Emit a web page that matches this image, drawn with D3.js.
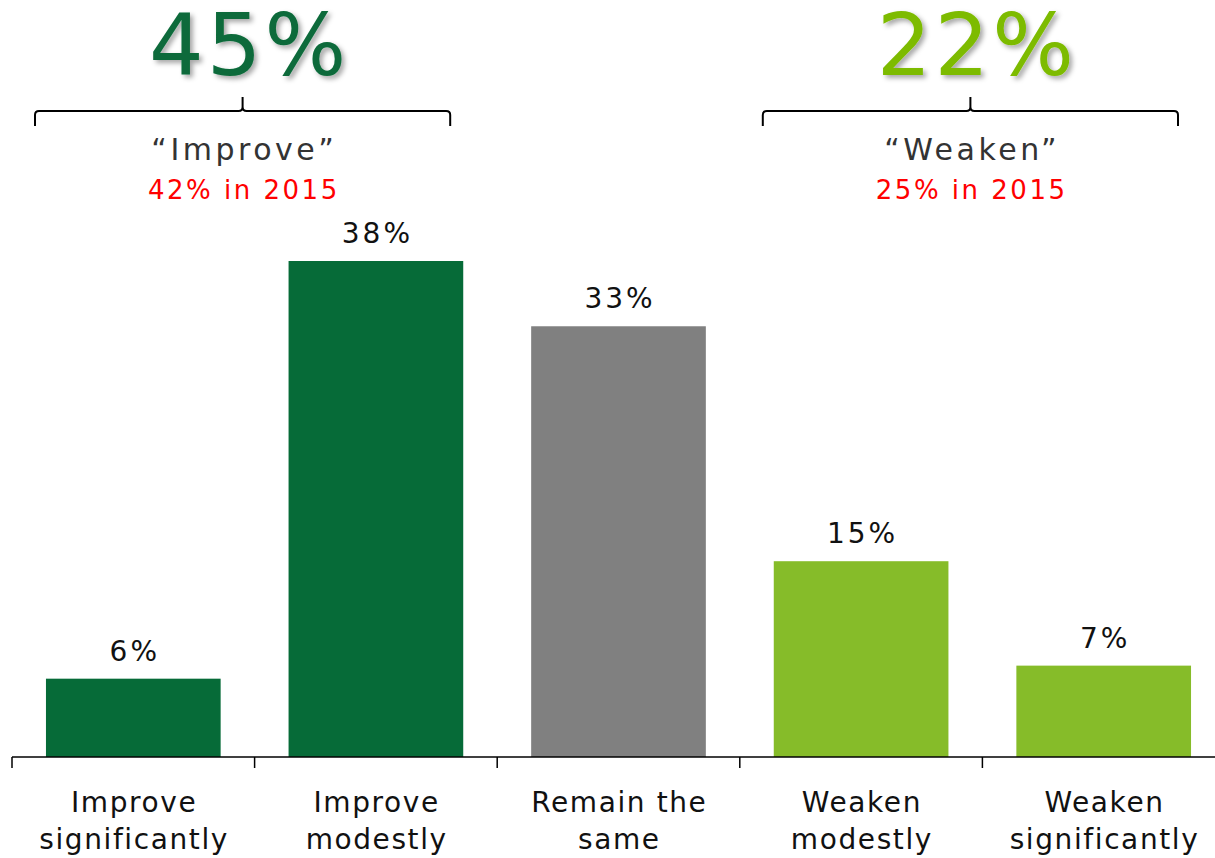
<!DOCTYPE html>
<html>
<head>
<meta charset="utf-8">
<script src="https://cdn.jsdelivr.net/npm/d3@7"></script>
<style>
  body { margin: 0; background: #fff; }
  svg { display: block; }
</style>
</head>
<body>
<script>
// Data
const categories = ["Improve significantly", "Improve modestly", "Remain the same", "Weaken modestly", "Weaken significantly"];
const labelLines = [["Improve", "significantly"], ["Improve", "modestly"], ["Remain the", "same"], ["Weaken", "modestly"], ["Weaken", "significantly"]];
const values = [6, 38, 33, 15, 7];
const groups = [
  { name: "\u201cImprove\u201d", total: "45%", prior: "42% in 2015", from: 0, to: 1 },
  { name: "\u201cWeaken\u201d", total: "22%", prior: "25% in 2015", from: 3, to: 4 }
];

const width = 1215, height = 858;
const font = "Verdana, 'DejaVu Sans', sans-serif";
const darkGreen = "#066b38", lightGreen = "#86bc29", grey = "#808080";
const barColors = [darkGreen, darkGreen, grey, lightGreen, lightGreen];
const totalColors = ["#0b6b3a", "#7dbb00"];

const svg = d3.select("body").append("svg")
  .attr("width", width)
  .attr("height", height);

// drop shadow for the big totals
const defs = svg.append("defs");
defs.append("filter")
  .attr("id", "shadow")
  .attr("x", "-20%").attr("y", "-20%")
  .attr("width", "140%").attr("height", "140%")
  .append("feDropShadow")
  .attr("dx", 3).attr("dy", 3)
  .attr("stdDeviation", 2.5)
  .attr("flood-color", "#000")
  .attr("flood-opacity", 0.35);

const x = d3.scaleBand(d3.range(categories.length), [12, 1225]).paddingInner(0.28).paddingOuter(0.14);
const step = x.step();
const y = d3.scaleLinear([0, 38], [757, 261]);

// letter-spaced text helper: shift by half the spacing so it stays centred
function spaced(sel, size, ls) {
  return sel.attr("font-family", font)
    .attr("font-size", size)
    .attr("letter-spacing", ls)
    .attr("dx", ls / 2)
    .attr("text-anchor", "middle");
}

// bars
svg.append("g")
  .selectAll("rect")
  .data(values)
  .join("rect")
  .attr("x", (d, i) => x(i))
  .attr("y", d => y(d))
  .attr("width", x.bandwidth())
  .attr("height", d => y(0) - y(d))
  .attr("fill", (d, i) => barColors[i]);

// value labels
svg.append("g")
  .selectAll("text")
  .data(values)
  .join("text")
  .attr("x", (d, i) => x(i) + x.bandwidth() / 2)
  .attr("y", d => y(d) - 18)
  .call(spaced, 28, 3)
  .attr("fill", "#111")
  .text(d => d + "%");

// x axis
const axisG = svg.append("g");
axisG.append("line")
  .attr("x1", 12).attr("x2", 1225)
  .attr("y1", y(0)).attr("y2", y(0))
  .attr("stroke", "#000").attr("stroke-width", 1.5);
axisG.selectAll(".tick")
  .data(d3.range(categories.length + 1))
  .join("line")
  .attr("class", "tick")
  .attr("x1", i => 12 + i * step).attr("x2", i => 12 + i * step)
  .attr("y1", y(0)).attr("y2", y(0) + 11)
  .attr("stroke", "#000").attr("stroke-width", 1.5);

const catText = axisG.selectAll(".cat")
  .data(labelLines)
  .join("text")
  .attr("class", "cat")
  .attr("text-anchor", "middle")
  .attr("font-family", font)
  .attr("font-size", 28)
  .attr("letter-spacing", 1.6)
  .attr("fill", "#111");
catText.selectAll("tspan")
  .data((d, i) => d.map(t => ({ t, i })))
  .join("tspan")
  .attr("x", d => x(d.i) + x.bandwidth() / 2 + 0.8)
  .attr("y", (d, j) => 812 + j * 37)
  .text(d => d.t);

// group braces and totals
const gg = svg.append("g");
groups.forEach((g, k) => {
  const x0 = 12 + g.from * step + 23;
  const x1 = 12 + (g.to + 1) * step - 47;
  const xm = (x0 + x1) / 2;
  const yl = 111, r = 4;
  const path = `M${x0},${yl + 15} L${x0},${yl + r} Q${x0},${yl} ${x0 + r},${yl}
    L${xm - r},${yl} Q${xm},${yl} ${xm},${yl - r} L${xm},${yl - 14}
    M${xm},${yl - r} Q${xm},${yl} ${xm + r},${yl} L${x1 - r},${yl}
    Q${x1},${yl} ${x1},${yl + r} L${x1},${yl + 15}`;
  gg.append("path")
    .attr("d", path)
    .attr("fill", "none")
    .attr("stroke", "#000")
    .attr("stroke-width", 2);

  gg.append("text")
    .attr("x", xm + 5)
    .attr("y", 75)
    .call(spaced, 86, 3)
    .attr("fill", totalColors[k])
    .attr("filter", "url(#shadow)")
    .text(g.total);

  gg.append("text")
    .attr("x", xm)
    .attr("y", 160)
    .call(spaced, 30, 3.5)
    .attr("fill", "#333")
    .text(g.name);

  gg.append("text")
    .attr("x", xm)
    .attr("y", 199)
    .call(spaced, 26, 2.5)
    .attr("fill", "#ff0000")
    .text(g.prior);
});
</script>
</body>
</html>
